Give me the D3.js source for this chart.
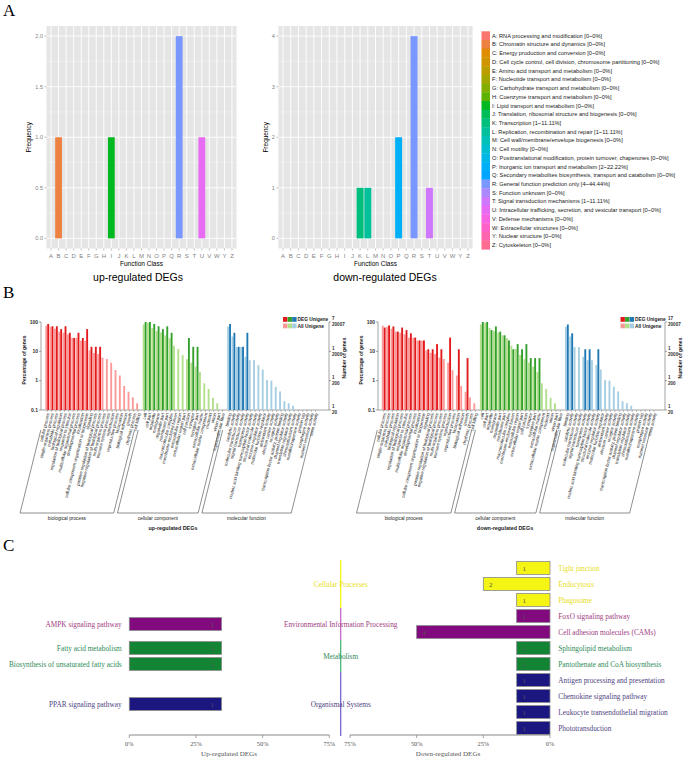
<!DOCTYPE html>
<html><head><meta charset="utf-8">
<script src="https://cdn.jsdelivr.net/npm/d3@7"></script>
<style>body{margin:0;background:#fff}svg{display:block}</style>
</head><body>
<svg id="c" width="685" height="758"></svg>
<script>
// ---------------- DATA ----------------
// Panel A: COG classes
const cogCodes = ["A","B","C","D","E","F","G","H","I","J","K","L","M","N","O","P","Q","R","S","T","U","V","W","Y","Z"];
const cogNames = ["RNA processing and modification","Chromatin structure and dynamics","Energy production and conversion",
 "Cell cycle control, cell division, chromosome partitioning","Amino acid transport and metabolism","Nucleotide transport and metabolism",
 "Carbohydrate transport and metabolism","Coenzyme transport and metabolism","Lipid transport and metabolism",
 "Translation, ribosomal structure and biogenesis","Transcription","Replication, recombination and repair",
 "Cell wall/membrane/envelope biogenesis","Cell motility","Posttranslational modification, protein turnover, chaperones",
 "Inorganic ion transport and metabolism","Secondary metabolites biosynthesis, transport and catabolism","General function prediction only",
 "Function unknown","Signal transduction mechanisms","Intracellular trafficking, secretion, and vesicular transport",
 "Defense mechanisms","Extracellular structures","Nuclear structure","Cytoskeleton"];
const cogLegendStats = ["0~0%","0~0%","0~0%","0~0%","0~0%","0~0%","0~0%","0~0%","0~0%","0~0%","1~11.11%","1~11.11%","0~0%","0~0%","0~0%","2~22.22%","0~0%","4~44.44%","0~0%","1~11.11%","0~0%","0~0%","0~0%","0~0%","0~0%"];
const cogUp   = [0,1,0,0,0,0,0,0,1,0,0,0,0,0,0,0,0,2,0,0,1,0,0,0,0];
const cogDown = [0,0,0,0,0,0,0,0,0,0,1,1,0,0,0,2,0,4,0,1,0,0,0,0,0];
const cogUpTicks = [0,0.5,1,1.5,2];
const cogDownTicks = [0,1,2,3,4];

// Panel B: GO classification (percentage of genes)
const goCategories = ["biological process","cellular component","molecular function"];
const goBP = ["cellular process","single-organism process","metabolic process","biological regulation","regulation of biological process",
 "response to stimulus","multicellular organismal process","developmental process","localization","cellular component organization or biogenesis",
 "signaling","positive regulation of biological process","negative regulation of biological process","multi-organism process",
 "immune system process","reproduction","reproductive process","locomotion","biological adhesion","growth","rhythmic process","cell killing"];
const goCC = ["cell","cell part","organelle","membrane","organelle part","membrane part","macromolecular complex","membrane-enclosed lumen",
 "extracellular region","extracellular region part","cell junction","synapse","synapse part","extracellular matrix",
 "extracellular matrix component","nucleoid","virion","virion part","supramolecular fiber"];
const goMF = ["binding","catalytic activity","molecular transducer activity","signal transducer activity","transporter activity",
 "nucleic acid binding transcription factor activity","structural molecule activity","enzyme regulator activity","molecular function regulator",
 "antioxidant activity","electron carrier activity","receptor activity","transcription factor activity, protein binding","channel regulator activity",
 "translation regulator activity","chemoattractant activity","metallochaperone activity","protein tag","morphogen activity",
 "nutrient reservoir activity","toxin activity"];
const allBP = [75,69,59,47,43,38,29,29,23,23,10.8,8.8,8.1,6.1,5.5,4.1,2.3,1.5,0.66,0.42,0.27,0.17];
const allCC = [83,95,63,49,44,35,28,15.5,12,7.5,5.4,4.1,3,2,0.81,0.52,0.26,0.17,0];
const allMF = [69,32,14,14,6.5,5,5,3.4,2.4,1.05,1.0,0.62,0.43,0.2,0.17,0.14,0,0,0,0,0];
const upBP = [6,5,5,4,5,3,2,3,2,4,1,1,1,0,0,0,0,0,0,0,0,0];
const upCC = [7,7,6,5,4,5,3,0,0,0,2,1,1,0,0,0,0,0,0];
const upMF = [6,3,1,1,3,0,0,0,0,0,0,0,0,0,0,0,0,0,0,0,0];
const downBP = [11,13,12,8,11,9,7,5,4,4,2,2,3,2,0,5,0,2,0,1,0,0];
const downCC = [17,17,9,12,8,6,4,2,3,2,3,1,1,1,0,0,0,0,0];
const downMF = [14,7,0,0,2,2,0,2,0,0,0,0,0,0,0,0,0,0,0,0,0];
const upTotal = 7, downTotal = 17;
const goPctTicks = [100,10,1,0.1];
const upRightLabels = [["7","20007"],["1","2000"],["1","200"],["1","20"]];
const downRightLabels = [["17","20007"],["1","2000"],["1","200"],["1","20"]];

// Panel C: KEGG classification
const keggClasses = ["Cellular Processes","Environmental Information Processing","Metabolism","Organismal Systems"];
const downPathways = ["Tight junction","Endocytosis","Phagosome","FoxO signaling pathway","Cell adhesion molecules (CAMs)",
 "Sphingolipid metabolism","Pantothenate and CoA biosynthesis","Antigen processing and presentation","Chemokine signaling pathway",
 "Leukocyte transendothelial migration","Phototransduction"];
const downClass = [0,0,0,1,1,2,2,3,3,3,3];
const downCounts = [1,2,1,1,4,1,1,1,1,1,1];
const downPct = [12.5,25,12.5,12.5,50,12.5,12.5,12.5,12.5,12.5,12.5];
const upPathways = ["AMPK signaling pathway","Fatty acid metabolism","Biosynthesis of unsaturated fatty acids","PPAR signaling pathway"];
const upClass = [1,2,2,3];
const upCounts = [1,1,1,1];
const upPct = [34.6,34.6,34.6,34.6];
const keggTicks = [0,25,50,75];

// ---------------- STYLE ----------------
const SANS = "Liberation Sans, Arial, sans-serif";
const SERIF = "Liberation Serif, Times New Roman, serif";
function hueColor(h){ // polar Luv, c=100, l=65 (ggplot hue palette)
  const l=65,c=100,hr=h*Math.PI/180,U=c*Math.cos(hr),V=c*Math.sin(hr);
  const Xn=95.047,Yn=100,Zn=108.883,den=Xn+15*Yn+3*Zn,un=4*Xn/den,vn=9*Yn/den;
  const Y=Yn*Math.pow((l+16)/116,3),up=U/(13*l)+un,vp=V/(13*l)+vn;
  const X=Y*9*up/(4*vp),Z=Y*(12-3*up-20*vp)/(4*vp);
  const lin=[(3.2404542*X-1.5371385*Y-0.4985314*Z)/100,(-0.9692660*X+1.8760108*Y+0.0415560*Z)/100,(0.0556434*X-0.2040259*Y+1.0572252*Z)/100];
  const g=lin.map(v=>{v=v<=0.0031308?12.92*v:1.055*Math.pow(v,1/2.4)-0.055;return Math.round(Math.max(0,Math.min(1,v))*255);});
  return d3.rgb(g[0],g[1],g[2]).formatHex();
}
const cogColor = d3.scaleOrdinal().domain(cogCodes).range(cogCodes.map((d,i)=>hueColor(15+i*360/cogCodes.length)));

const svg = d3.select("#c");
svg.append("rect").attr("width",685).attr("height",758).attr("fill","#fff");

function panelLetter(t,x,y){svg.append("text").attr("x",x).attr("y",y).attr("font-family",SERIF).attr("font-size",17).text(t);}
panelLetter("A",3,16); panelLetter("B",3,298); panelLetter("C",3,551);

// ---------------- PANEL A ----------------
function cogPanel(counts, box, ticks, fmt, ylabX, title, titleX){
  const g = svg.append("g");
  const step = ticks[1]-ticks[0], tmax = ticks[ticks.length-1];
  const x = d3.scaleBand().domain(cogCodes).range([box.x0,box.x1]).paddingInner(0.1).paddingOuter(0.15);
  const y = d3.scaleLinear().domain([-tmax*0.05, tmax*1.05]).range([box.y1,box.y0]);
  g.append("rect").attr("x",box.x0).attr("y",box.y0).attr("width",box.x1-box.x0).attr("height",box.y1-box.y0).attr("fill","#e5e5e5");
  const minor = ticks.slice(1).map(t=>t-step/2);
  g.selectAll(".mn").data(minor).enter().append("line").attr("x1",box.x0).attr("x2",box.x1)
    .attr("y1",d=>y(d)).attr("y2",d=>y(d)).attr("stroke","#f2f2f2").attr("stroke-width",0.5);
  g.selectAll(".mj").data(ticks).enter().append("line").attr("x1",box.x0).attr("x2",box.x1)
    .attr("y1",d=>y(d)).attr("y2",d=>y(d)).attr("stroke","#fff").attr("stroke-width",0.9);
  g.selectAll(".vx").data(cogCodes).enter().append("line").attr("y1",box.y0).attr("y2",box.y1)
    .attr("x1",d=>x(d)+x.bandwidth()/2).attr("x2",d=>x(d)+x.bandwidth()/2).attr("stroke","#fff").attr("stroke-width",0.9);
  g.selectAll(".bar").data(cogCodes.map((c,i)=>({c,v:counts[i]})).filter(d=>d.v>0)).enter().append("rect")
    .attr("x",d=>x(d.c)).attr("width",x.bandwidth()).attr("y",d=>y(d.v)).attr("height",d=>y(0)-y(d.v)).attr("fill",d=>cogColor(d.c));
  // axes
  g.selectAll(".yt").data(ticks).enter().append("line").attr("x1",box.x0-2).attr("x2",box.x0).attr("y1",d=>y(d)).attr("y2",d=>y(d)).attr("stroke","#7f7f7f").attr("stroke-width",0.5);
  g.selectAll(".yl").data(ticks).enter().append("text").attr("x",box.x0-3.5).attr("y",d=>y(d)+2).attr("text-anchor","end")
    .attr("font-family",SANS).attr("font-size",5.5).attr("fill","#7f7f7f").text(fmt);
  g.selectAll(".xt").data(cogCodes).enter().append("line").attr("y1",box.y1).attr("y2",box.y1+2)
    .attr("x1",d=>x(d)+x.bandwidth()/2).attr("x2",d=>x(d)+x.bandwidth()/2).attr("stroke","#7f7f7f").attr("stroke-width",0.5);
  g.selectAll(".xl").data(cogCodes).enter().append("text").attr("x",d=>x(d)+x.bandwidth()/2).attr("y",box.y1+9.5).attr("text-anchor","middle")
    .attr("font-family",SANS).attr("font-size",6).attr("fill","#7f7f7f").text(d=>d);
  g.append("text").attr("x",(box.x0+box.x1)/2).attr("y",box.y1+17).attr("text-anchor","middle").attr("font-family",SANS).attr("font-size",6.5).text("Function Class");
  g.append("text").attr("transform",`translate(${ylabX},${(box.y0+box.y1)/2}) rotate(-90)`).attr("text-anchor","middle").attr("font-family",SANS).attr("font-size",6.5).text("Frequency");
  g.append("text").attr("x",titleX).attr("y",281).attr("text-anchor","middle").attr("font-family",SANS).attr("font-size",10.5).text(title);
}
cogPanel(cogUp,{x0:46.5,x1:236.5,y0:26,y1:248.5},cogUpTicks,d3.format(".1f"),31,"up-regulated DEGs",138);
cogPanel(cogDown,{x0:278.4,x1:472.6,y0:26,y1:248.5},cogDownTicks,d3.format("d"),268,"down-regulated DEGs",385);

// legend
const lg = svg.append("g");
const ly = d3.scaleBand().domain(cogCodes).range([31.3,31.3+8.72*25]);
lg.selectAll("rect").data(cogCodes).enter().append("rect").attr("x",481.5).attr("width",8.5).attr("y",d=>ly(d)).attr("height",ly.bandwidth()+0.3).attr("fill",d=>cogColor(d));
lg.selectAll("text").data(cogCodes).enter().append("text").attr("x",492).attr("y",d=>ly(d)+ly.bandwidth()/2+2.1)
  .attr("font-family",SANS).attr("font-size",5.7).attr("fill","#222").text((d,i)=>`${d}: ${cogNames[i]} [${cogLegendStats[i]}]`);

// ---------------- PANEL B ----------------
const goDark = ["#e31a1c","#33a02c","#1f78b4"], goLight = ["#fb9a99","#b2df8a","#a6cee3"];
function goPanel(o){
  const g = svg.append("g");
  const lists=[goBP,goCC,goMF], alls=[allBP,allCC,allMF], degs=o.deg;
  const terms=[];
  lists.forEach((L,c)=>L.forEach((n,i)=>terms.push({name:n,cat:c,all:alls[c][i],deg:degs[c][i]/o.total*100,idx:terms.length+c*0.5})));
  const x = d3.scaleLinear().domain([0,1]).range([o.x0,o.x0+o.slot]);
  const y = d3.scaleLog().domain([0.1,100]).range([410,322]);
  // axes lines
  g.append("line").attr("x1",o.axL).attr("x2",o.axR).attr("y1",410).attr("y2",410).attr("stroke","#666").attr("stroke-width",0.6);
  g.append("line").attr("x1",o.axL).attr("x2",o.axL).attr("y1",322).attr("y2",410).attr("stroke","#666").attr("stroke-width",0.6);
  g.append("line").attr("x1",o.axR).attr("x2",o.axR).attr("y1",322).attr("y2",410).attr("stroke","#666").attr("stroke-width",0.6);
  g.selectAll(".ylt").data(goPctTicks).enter().append("line").attr("x1",o.axL-2).attr("x2",o.axL).attr("y1",d=>y(d)).attr("y2",d=>y(d)).attr("stroke","#666").attr("stroke-width",0.6);
  g.selectAll(".yrt").data(goPctTicks).enter().append("line").attr("x1",o.axR).attr("x2",o.axR+2).attr("y1",d=>y(d)).attr("y2",d=>y(d)).attr("stroke","#666").attr("stroke-width",0.6);
  g.selectAll(".yl").data(goPctTicks).enter().append("text").attr("x",o.axL-3).attr("y",d=>y(d)+1.8).attr("text-anchor","end")
    .attr("font-family",SANS).attr("font-size",5).attr("font-weight","bold").attr("fill","#333").text(d=>d);
  goPctTicks.forEach((t,i)=>{
    g.append("text").attr("x",o.axR+3).attr("y",y(t)-1.6).attr("font-family",SANS).attr("font-size",4.6).attr("font-weight","bold").attr("fill","#333").text(o.rl[i][0]);
    g.append("text").attr("x",o.axR+3).attr("y",y(t)+4.2).attr("font-family",SANS).attr("font-size",4.6).attr("font-weight","bold").attr("fill","#333").text(o.rl[i][1]);
  });
  g.append("text").attr("transform",`translate(${o.axL-15},360) rotate(-90)`).attr("text-anchor","middle").attr("font-family",SANS).attr("font-size",5).attr("font-weight","bold").attr("fill","#222").text("Percentage of genes");
  g.append("text").attr("transform",`translate(${o.axR+17},358) rotate(-90)`).attr("text-anchor","middle").attr("font-family",SANS).attr("font-size",5).attr("font-weight","bold").attr("fill","#222").text("Number of genes");
  // bars
  g.selectAll(".la").data(terms.filter(d=>d.all>0)).enter().append("rect").attr("x",d=>x(d.idx)+0.3).attr("width",o.slot*0.43)
    .attr("y",d=>y(d.all)).attr("height",d=>410-y(d.all)).attr("fill",d=>goLight[d.cat]);
  g.selectAll(".dk").data(terms.filter(d=>d.deg>0)).enter().append("rect").attr("x",d=>x(d.idx)+0.3+o.slot*0.45).attr("width",o.slot*0.43)
    .attr("y",d=>y(d.deg)).attr("height",d=>410-y(d.deg)).attr("fill",d=>goDark[d.cat]);
  // x ticks + labels
  g.selectAll(".xt").data(terms).enter().append("line").attr("x1",d=>x(d.idx+0.5)).attr("x2",d=>x(d.idx+0.5)).attr("y1",410).attr("y2",412).attr("stroke","#666").attr("stroke-width",0.4);
  g.selectAll(".xl").data(terms).enter().append("text").attr("transform",d=>`translate(${x(d.idx+0.5)+1},413) rotate(-76)`)
    .attr("text-anchor","end").attr("dy","0.35em").attr("font-family",SANS).attr("font-size",4.3).attr("fill","#222").text(d=>d.name);
  // brackets
  const k=0.25;
  goCategories.forEach((c,ci)=>{
    const ts=terms.filter(d=>d.cat===ci), xa=x(ts[0].idx)+0.8, xb=x(ts[ts.length-1].idx+1)-0.8;
    const top=430,bot=513;
    g.append("path").attr("d",`M${xa-(top-410)*k},${top}L${xa-(bot-410)*k},${bot}L${xb-(bot-410)*k},${bot}L${xb-(top-410)*k},${top}`)
      .attr("fill","none").attr("stroke","#444").attr("stroke-width",0.6);
    g.append("text").attr("x",(xa+xb)/2-(bot-410)*k).attr("y",519.5).attr("text-anchor","middle").attr("font-family",SANS).attr("font-size",4.8).attr("fill","#222").text(c);
  });
  g.append("text").attr("x",o.titleX).attr("y",530).attr("text-anchor","middle").attr("font-family",SANS).attr("font-size",5.4).attr("font-weight","bold").attr("fill","#222").text(o.title);
  // legend
  const lx=o.legX;
  [goDark,goLight].forEach((cols,r)=>{
    cols.forEach((col,j)=>g.append("rect").attr("x",lx+j*4.6).attr("y",317+r*6.5).attr("width",4.4).attr("height",4.8).attr("fill",col));
    g.append("text").attr("x",lx+14.5).attr("y",321.4+r*6.5).attr("font-family",SANS).attr("font-size",4.8).attr("font-weight","bold").attr("fill","#222").text(r===0?"DEG Unigene":"All Unigene");
  });
}
goPanel({x0:45,slot:4.33,axL:41,axR:329,deg:[upBP,upCC,upMF],total:upTotal,rl:upRightLabels,title:"up-regulated DEGs",titleX:173,legX:283});
goPanel({x0:381.5,slot:4.36,axL:378,axR:665,deg:[downBP,downCC,downMF],total:downTotal,rl:downRightLabels,title:"down-regulated DEGs",titleX:505,legX:620.5});

// ---------------- PANEL C ----------------
const kFill = ["#f5f515","#800a7e","#138433","#1c1680"];
const kLine = ["#f5f500","#c060c0","#3cb371","#6a5acd"];
const kText = ["#e8e020","#a0407f","#2e8b57","#4f4382"];
const rows = d3.scaleBand().domain(d3.range(downPathways.length)).range([560,736]).paddingInner(0.2).paddingOuter(0.1);
const rowStep = rows.step();
const xL = d3.scaleLinear().domain([0,75]).range([129.3,329.3]);
const xR = d3.scaleLinear().domain([0,75]).range([550,350]);
const midX = 340.7;
const cg = svg.append("g");
// class groups
keggClasses.forEach((c,ci)=>{
  const idx = downClass.map((d,i)=>d===ci?i:-1).filter(i=>i>=0);
  const y0 = rows(idx[0]) - rows.paddingInner()*rowStep/2, y1 = rows(idx[idx.length-1]) + rows.bandwidth() + rows.paddingInner()*rowStep/2;
  cg.append("line").attr("x1",midX).attr("x2",midX).attr("y1",y0).attr("y2",y1).attr("stroke",kLine[ci]).attr("stroke-width",1.2);
  cg.append("text").attr("x",midX).attr("y",(y0+y1)/2+2.5).attr("text-anchor","middle").attr("font-family",SERIF).attr("font-size",7.3).attr("fill",kText[ci]).text(c);
  // up pathways centered in group
  const ups = upClass.map((d,i)=>d===ci?i:-1).filter(i=>i>=0);
  const gc = (y0+y1)/2;
  ups.forEach((ui,j)=>{
    const cy = gc + (j-(ups.length-1)/2)*rowStep;
    cg.append("rect").attr("x",xL(0)).attr("width",xL(upPct[ui])-xL(0)).attr("y",cy-rows.bandwidth()/2).attr("height",rows.bandwidth())
      .attr("fill",kFill[ci]).attr("stroke","#8a8a8a").attr("stroke-width",0.8);
    cg.append("text").attr("x",xL(upPct[ui])-9).attr("y",cy+2.5).attr("text-anchor","middle").attr("font-family",SERIF).attr("font-size",7).attr("fill","#555").text(upCounts[ui]);
    cg.append("text").attr("x",121.7).attr("y",cy+2.5).attr("text-anchor","end").attr("font-family",SERIF).attr("font-size",7.3).attr("fill",kText[ci]).text(upPathways[ui]);
  });
});
downPathways.forEach((p,i)=>{
  const ci = downClass[i], cy = rows(i)+rows.bandwidth()/2;
  cg.append("rect").attr("x",xR(downPct[i])).attr("width",xR(0)-xR(downPct[i])).attr("y",rows(i)).attr("height",rows.bandwidth())
    .attr("fill",kFill[ci]).attr("stroke","#8a8a8a").attr("stroke-width",0.8);
  cg.append("text").attr("x",xR(downPct[i])+7.5).attr("y",cy+2.5).attr("text-anchor","middle").attr("font-family",SERIF).attr("font-size",7).attr("fill","#555").text(downCounts[i]);
  cg.append("text").attr("x",558.3).attr("y",cy+2.5).attr("font-family",SERIF).attr("font-size",7.3).attr("fill",kText[ci]).text(p);
});
// axes
function keggAxis(sc,title,tx){
  const [a,b]=sc.range();
  cg.append("line").attr("x1",a).attr("x2",b).attr("y1",735).attr("y2",735).attr("stroke","#8a8a8a").attr("stroke-width",1.2);
  cg.selectAll(null).data(keggTicks).enter().append("line").attr("x1",d=>sc(d)).attr("x2",d=>sc(d)).attr("y1",735).attr("y2",738).attr("stroke","#8a8a8a").attr("stroke-width",0.8);
  cg.selectAll(null).data(keggTicks).enter().append("text").attr("x",d=>sc(d)).attr("y",745.5).attr("text-anchor","middle").attr("font-family",SERIF).attr("font-size",6.3).attr("fill","#555").text(d=>d+"%");
  cg.append("text").attr("x",tx).attr("y",755.5).attr("text-anchor","middle").attr("font-family",SERIF).attr("font-size",7).attr("fill","#555").text(title);
}
keggAxis(xL,"Up-regulated DEGs",229);
keggAxis(xR,"Down-regulated DEGs",448);
</script></body></html>
